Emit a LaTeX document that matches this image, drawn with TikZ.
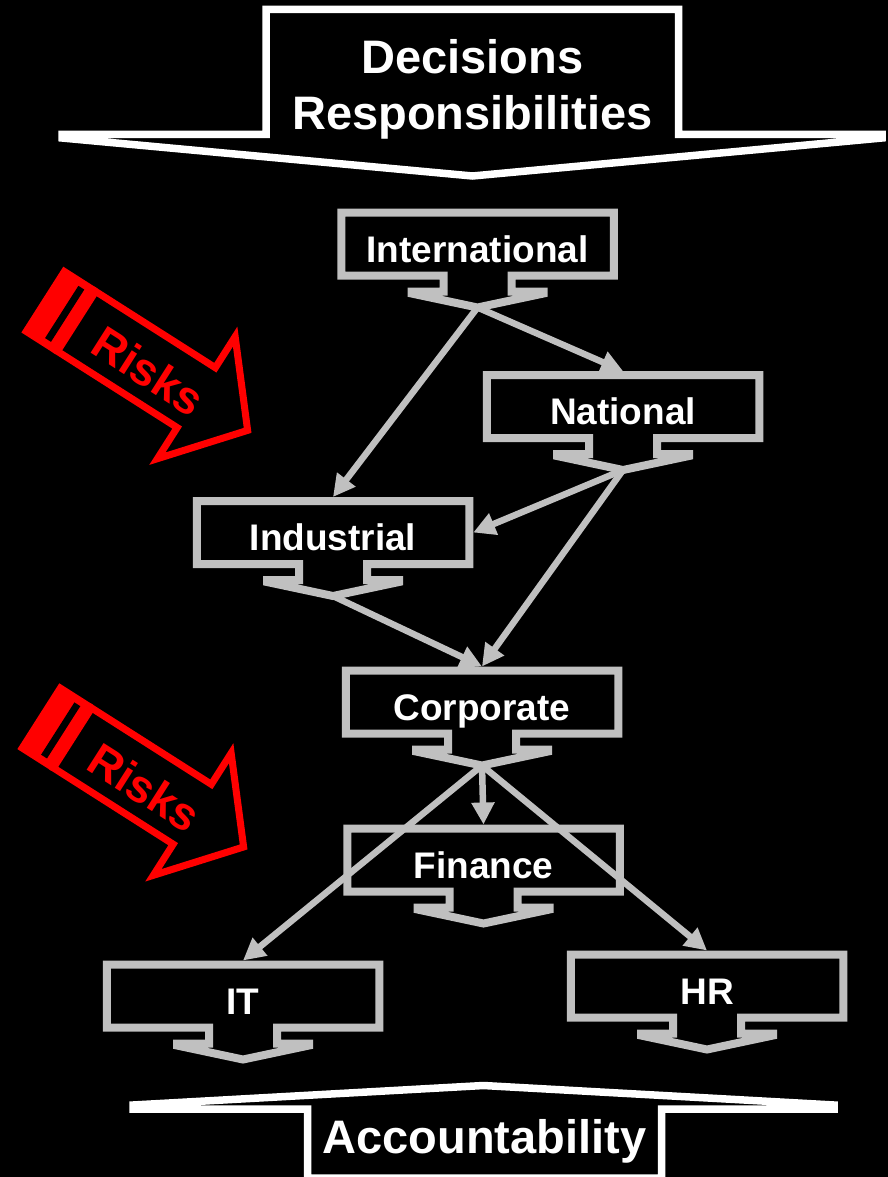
\documentclass[tikz,border=0pt]{standalone}
\usepackage{fontspec}
\setmainfont{Liberation Sans}
\usetikzlibrary{arrows.meta,calc}
\definecolor{boxgray}{HTML}{C0C0C0}
\definecolor{riskred}{HTML}{FF0000}
\begin{document}
\begin{tikzpicture}[x=1pt, y=-1pt, line join=miter, >={Triangle[length=22pt,width=22pt]},
	tier/.style={minimum width=280.5pt, minimum height=71pt, inner sep=0pt, outer sep=0pt, text=white,
		font=\bfseries\fontsize{37}{40}\selectfont, text height=36.5pt, text depth=0pt},
	tierline/.style={draw=boxgray, line width=8pt},
	link/.style={->, draw=boxgray, line width=6.5pt},
	bigtext/.style={text=white, inner sep=0pt, font=\bfseries\fontsize{47}{50}\selectfont, text height=33.7pt, text depth=0pt},
	bigline/.style={draw=white, line width=7.5pt},
	riskline/.style={draw=riskred, line width=7pt},
	risktext/.style={text=riskred, inner sep=0pt, font=\bfseries\fontsize{46}{48}\selectfont, text height=33pt, text depth=0pt}]
	\fill[black] (0,0) rectangle (888,1177);
	\useasboundingbox (0,0) rectangle (888,1177);
	\clip (0,0) rectangle (888,1177);
	% top and bottom arrows
	\draw[bigline] (266,134.5) -- (266,9.5) -- (678.5,9.5) -- (678.5,134.5) -- (882,134.5) -- (882,138) -- (472.5,176) -- (62,138) -- (62,134.5) -- cycle;
	\node[bigtext] (dec) at (472.5,57) {Decisions};
	\node[bigtext] (resp) at (472.5,113) {Responsibilities};
	\draw[bigline] (307.5,1178) -- (307.5,1109) -- (133,1109) -- (133,1105) -- (483.5,1085.5) -- (834,1105) -- (834,1109) -- (661.5,1109) -- (661.5,1178) -- cycle;
	\node[bigtext] (acc) at (484.5,1136.5) {Accountability};
	% levels
	\node[tier] (intl) at (477.5,244) {International};
	\node[tier] (nat) at (623,406.5) {National};
	\node[tier] (ind) at (333,532.5) {Industrial};
	\node[tier] (corp) at (482,702) {Corporate};
	\node[tier] (fin) at (483.5,860) {Finance};
	\node[tier] (it) at (243,996) {IT};
	\node[tier] (hr) at (707,986) {HR};
	\foreach \n in {intl,nat,ind,corp,fin,it,hr}{
		\draw[tierline] ($(\n.center)+(-136.25,-31.5)$) -- ++(272.5,0) -- ++(0,63) -- ++(-102.25,0) -- ++(0,16) -- ++(32,0) -- ++(0,2)
			-- ($(\n.center)+(0,63.5)$) coordinate (\n-tip) -- ($(\n.center)+(-66,49.5)$) -- ++(0,-2) -- ++(32,0) -- ++(0,-16) -- ++(-102.25,0) -- cycle;
	}
	\foreach \a/\b in {intl-tip/ind.north, intl-tip/nat.north, nat-tip/ind.east, nat-tip/corp.north, ind-tip/corp.north,
		corp-tip/fin.north, corp-tip/it.north, corp-tip/hr.north}
		\draw[link] (\a) -- (\b);
	% risks
	\foreach \rx/\ry/\nm in {63.3/266.7/riskA, 59.3/683.3/riskB}{
		\begin{scope}[shift={(\rx,\ry)}, rotate=-32.5]
			\fill[riskred] (0,0) rectangle (40.5,78);
			\fill[black] (23,8) rectangle (30,70);
			\draw[riskline] (40.5,3.5) -- (182.5,3.5) -- (182.5,-33.4) -- (243.4,39) -- (182.5,111.4) -- (182.5,74.5) -- (40.5,74.5) -- cycle;
			\node[risktext, rotate=-32.5] (\nm) at (128,42) {Risks};
		\end{scope}
	}
\end{tikzpicture}
\end{document}
